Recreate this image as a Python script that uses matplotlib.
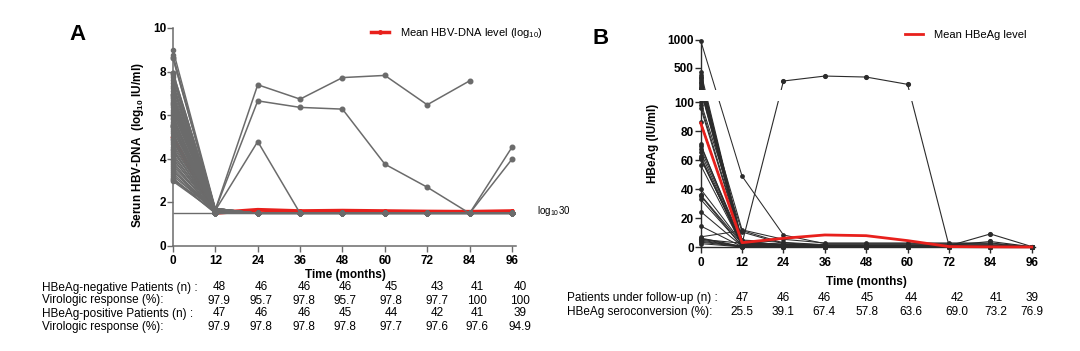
import numpy as np
import matplotlib
matplotlib.use("Agg")
import matplotlib.pyplot as plt
from matplotlib.patches import Rectangle
from matplotlib.lines import Line2D

plt.rcParams["font.family"] = ["Liberation Sans", "DejaVu Sans"]
plt.rcParams["mathtext.fontset"] = "custom"
plt.rcParams["mathtext.rm"] = "Liberation Sans"
plt.rcParams["mathtext.bf"] = "Liberation Sans:bold"
plt.rcParams["mathtext.it"] = "Liberation Sans:italic"

months = [0, 12, 24, 36, 48, 60, 72, 84, 96]
nan = np.nan

# Panel A: serum HBV-DNA (log10 IU/ml) per patient
a_baseline = [9.0, 8.75, 8.65, 7.95, 7.85, 7.75, 7.6, 7.45, 7.35, 7.25,
              7.1, 6.95, 6.85, 6.8, 6.7, 6.6, 6.55, 6.45, 6.35, 6.25,
              6.15, 6.05, 5.95, 5.85, 5.8, 5.7, 5.6, 5.5, 5.45, 5.35,
              5.25, 5.15, 5.05, 4.95, 4.85, 4.75, 4.65, 4.55, 4.45, 4.4,
              4.3, 4.2, 4.1, 4.0, 3.95, 3.85, 3.75, 3.65, 3.55, 3.45,
              3.4, 3.3, 3.2, 3.1, 3.05, 3.0, 2.95, 4.9, 5.55, 6.5]
a_month12 = [1.7, 1.65, 1.6, 1.55, 1.7, 1.5, 1.6, 1.48, 1.65, 1.55,
             1.6, 1.5, 1.7, 1.48, 1.6, 1.55, 1.65, 1.5, 1.48, 1.6,
             1.55, 1.7, 1.5, 1.6, 1.48, 1.65, 1.55, 1.5, 1.6, 1.48,
             1.7, 1.55, 1.6, 1.5, 1.48, 1.65, 1.55, 1.6, 1.5, 1.48,
             1.7, 1.55, 1.6, 1.5, 1.65, 1.48, 1.55, 1.6, 1.5, 1.48,
             1.65, 1.55, 1.6, 1.5, 1.48, 1.7, 1.55, 1.6, 1.5, 1.48]
a_lld = 1.48  # log10 30
a_rebound_1 = [8.6, 1.65, 7.39, 6.73, 7.72, 7.82, 6.47, 7.57, nan]
a_rebound_2 = [7.95, 1.65, 6.65, 6.35, 6.27, 3.74, 2.68, 1.48, 4.52]
a_blip = [6.9, 1.62, 4.78, 1.48, 1.48, 1.48, 1.48, 1.48, 1.48]
a_late = [5.5, 1.55, 1.48, 1.48, 1.48, 1.48, 1.48, 1.48, 3.97]
a_mean = [4.95, 1.5, 1.64, 1.58, 1.6, 1.58, 1.56, 1.55, 1.58]

# Panel B: HBeAg (IU/ml) per patient
b_baseline = [988, 430, 372, 335, 310, 282, 250, 222, 190, 160, 132, 112,
              104, 100, 98, 96, 86.6, 71, 70, 68, 65.5, 63, 61, 56.5,
              40, 35.5, 33, 24.6, 14.7, 7.2, 6.4, 5.8, 5.0, 4.2, 3.5, 2.5]
b_month12 = [49, 3.5, 2.5, 4.0, 1.5, 2.0, 3.0, 5.0, 2.2, 1.2, 12, 3.0,
             2.0, 10.5, 4.5, 3.2, 2.4, 1.2, 3.4, 2.0, 1.0, 0.6, 2.5, 1.4,
             3.0, 0.6, 1.1, 0.7, 0.4, 11.5, 0.6, 0.4, 0.3, 0.6, 0.4, 0.3]
b_month24 = [8.5, 2.0, 1.2, 1.8, 0.6, 1.1, 2.2, 3.4, 1.0, 0.5, 5.5, 1.3,
             0.6, 2.4, 1.5, 0.9, 0.6, 0.4, 1.2, 0.6, 0.4, 0.3, 0.7, 0.4,
             1.0, 0.2, 0.4, 0.3, 0.2, 3.0, 0.3, 0.2, 0.1, 0.3, 0.2, 0.1]
b_late = [2.5, 1.0, 0.6, 0.8, 0.3, 0.5, 1.2, 1.8, 0.5, 0.3, 3.0, 0.6,
          0.3, 1.2, 0.8, 0.5, 0.3, 0.2, 0.6, 0.3, 0.2, 0.2, 0.4, 0.2,
          0.5, 0.1, 0.2, 0.2, 0.1, 1.5, 0.2, 0.1, 0.1, 0.2, 0.1, 0.1]
b_month96 = 0.3
b_rebound = [5.5, 2.8, 263, 352, 334, 203, 1.2, 1.0, 0.4]
b_flare_1 = [61.5, 1.8, 0.9, 0.6, 0.6, 0.5, 1.0, 9.2, 0.5]
b_flare_2 = [36, 2.4, 1.5, 1.2, 1.0, 1.0, 1.3, 4.0, 0.4]
b_mean = [85.5, 3.2, 6.2, 8.5, 8.0, 4.6, 0.5, 0.3, 0.2]

# tables under the plots
a_rows = ["HBeAg-negative Patients (n) :", "Virologic response (%):",
          "HBeAg-positive Patients (n) :", "Virologic response (%):"]
a_neg_n = ["48", "46", "46", "46", "45", "43", "41", "40"]
a_neg_vr = ["97.9", "95.7", "97.8", "95.7", "97.8", "97.7", "100", "100"]
a_pos_n = ["47", "46", "46", "45", "44", "42", "41", "39"]
a_pos_vr = ["97.9", "97.8", "97.8", "97.8", "97.7", "97.6", "97.6", "94.9"]
b_rows = ["Patients under follow-up (n) :", "HBeAg seroconversion (%):"]
b_n = ["47", "46", "46", "45", "44", "42", "41", "39"]
b_sero = ["25.5", "39.1", "67.4", "57.8", "63.6", "69.0", "73.2", "76.9"]

W, H = 1080, 351
fig = plt.figure(figsize=(10.8, 3.51), dpi=100)


def fx(x):
    return x / W


def fy(y):
    return 1 - y / H


red = "#e8201c"
grey = "#6b6b6b"
dark = "#2b2b2b"

# ---------------- Panel A
axA = fig.add_axes([fx(173), fy(245.5), 97 * 3.531 / W, (245.5 - 28) / H])
axA.plot(months, a_mean, color=red, lw=2.8, marker="o", ms=2.5,
         zorder=1.8, clip_on=False)
for b, m in zip(a_baseline, a_month12):
    vals = [b, m] + [a_lld] * (len(months) - 2)
    axA.plot(months, vals, color=grey, lw=1.0, marker="o", ms=3,
             zorder=2, clip_on=False)
for traj in [a_rebound_1, a_rebound_2, a_blip, a_late]:
    axA.plot(months, traj, color=grey, lw=1.1, marker="o", ms=3.3,
             zorder=2.1, clip_on=False)
axA.hlines(a_lld, months[0], months[-1], color=grey, lw=1.0, zorder=2)

axA.set_xlim(0, 97)
axA.set_ylim(0, 10)
axA.set_xticks(months)
axA.set_yticks([0, 2, 4, 6, 8, 10])
axA.spines[["top", "right"]].set_visible(False)
for s in ["left", "bottom"]:
    axA.spines[s].set_color(grey)
    axA.spines[s].set_linewidth(1.1)
axA.tick_params(axis="both", labelsize=8.5, width=1.0, length=4,
                color=grey)
axA.tick_params(axis="x", pad=3)
axA.tick_params(axis="y", pad=1)
for lbl in axA.get_xticklabels() + axA.get_yticklabels():
    lbl.set_fontweight("bold")
axA.set_ylabel(r"Serun HBV-DNA  (log$_{\mathbf{10}}$ IU/ml)",
               fontweight="bold", fontsize=8.5)
axA.yaxis.set_label_coords(-0.079, 0.46)
axA.set_xlabel("Time (months)", fontweight="bold", fontsize=8.5)
axA.xaxis.set_label_coords(0.502, -0.11)

hA = Line2D([], [], color=red, lw=2.5, marker="o", ms=2.5)
axA.legend([hA], ["Mean HBV-DNA level (log$_{10}$)"], loc="center left",
           bbox_to_anchor=(fx(371), fy(33)), bbox_transform=fig.transFigure,
           frameon=False, fontsize=8, handlelength=1.6, handletextpad=1.0,
           borderpad=0, borderaxespad=0)
fig.text(fx(537), fy(211), "log$_{10}$30", fontsize=7, ha="left",
         va="center")
fig.text(fx(77), fy(35), "A", fontsize=16, fontweight="bold",
         ha="center", va="center")

# ---------------- Panel B (segmented y axis: 0-100 linear, gap, 100-1000)
B_GAP = 12 / 1.45
B_K = 50 / 900 / 1.45


def b_fwd(v):
    v = np.asarray(v, dtype=float)
    return np.where(v <= 100, v, 100 + B_GAP + (v - 100) * B_K)


def b_inv(t):
    t = np.asarray(t, dtype=float)
    return np.where(t <= 100, t,
                    np.where(t < 100 + B_GAP, 100,
                             100 + (t - 100 - B_GAP) / B_K))


axB = fig.add_axes([fx(700.7), fy(247.3), 97 * 3.448 / W, (247.3 - 40) / H])
axB.set_yscale("function", functions=(b_fwd, b_inv))
for i in range(len(b_baseline)):
    vals = [b_baseline[i], b_month12[i], b_month24[i]] + \
        [b_late[i]] * 5 + [b_month96]
    axB.plot(months, vals, color=dark, lw=0.75, marker="o", ms=2.4,
             zorder=2, clip_on=False)
for traj in [b_rebound, b_flare_1, b_flare_2]:
    axB.plot(months, traj, color=dark, lw=0.8, marker="o", ms=2.7,
             zorder=2.1, clip_on=False)
axB.plot(months, b_mean, color=red, lw=2.0, zorder=3, clip_on=False)

axB.set_xlim(0, 97)
axB.set_ylim(0, 1000)
axB.set_xticks(months)
axB.set_yticks([0, 20, 40, 60, 80, 100, 500, 1000])
axB.set_yticklabels(["0", "20", "40", "60", "80", "100", "500", "1000"])
axB.spines[["top", "right"]].set_visible(False)
for s in ["left", "bottom"]:
    axB.spines[s].set_color(dark)
    axB.spines[s].set_linewidth(1.0)
axB.tick_params(axis="both", labelsize=8.5, width=1.0, length=4,
                color=dark)
axB.tick_params(axis="x", pad=3)
axB.tick_params(axis="y", pad=1)
for lbl in axB.get_xticklabels() + axB.get_yticklabels():
    lbl.set_fontweight("bold")

# white band hides the axis break
top_t = float(b_fwd(1000))
y0 = (100 + 0.8) / top_t
y1 = (100 + B_GAP) / top_t
axB.add_patch(Rectangle((-0.012, y0), 1.03, y1 - y0, transform=axB.transAxes,
                        facecolor="white", edgecolor="none", zorder=5,
                        clip_on=False))

axB.set_ylabel("HBeAg (IU/ml)", fontweight="bold", fontsize=8.5)
axB.yaxis.set_label_coords(-0.125, 0.503)
axB.set_xlabel("Time (months)", fontweight="bold", fontsize=8.5)
axB.xaxis.set_label_coords(0.497, -0.14)

hB = Line2D([], [], color=red, lw=2.0)
axB.legend([hB], ["Mean HBeAg level"], loc="center left",
           bbox_to_anchor=(fx(905), fy(35)), bbox_transform=fig.transFigure,
           frameon=False, fontsize=8, handlelength=1.6, handletextpad=1.0,
           borderpad=0, borderaxespad=0)
fig.text(fx(601), fy(39), "B", fontsize=16, fontweight="bold",
         ha="center", va="center")

# ---------------- tables
a_cols = [219, 261, 304, 345, 391, 437, 477, 520]
a_rows_y = [287.5, 300.5, 313.5, 326.7]
for label, vals, y in zip(a_rows, [a_neg_n, a_neg_vr, a_pos_n, a_pos_vr],
                          a_rows_y):
    fig.text(fx(42), fy(y), label, fontsize=8.5, ha="left", va="center")
    for c, v in zip(a_cols, vals):
        fig.text(fx(c), fy(y), v, fontsize=8.5, ha="center", va="center")

b_cols = [742, 783, 824, 867, 911, 957, 996, 1032]
b_rows_y = [298.3, 312.3]
for label, vals, y in zip(b_rows, [b_n, b_sero], b_rows_y):
    fig.text(fx(567.5), fy(y), label, fontsize=8.5, ha="left", va="center")
    for c, v in zip(b_cols, vals):
        fig.text(fx(c), fy(y), v, fontsize=8.5, ha="center", va="center")

fig.savefig("out.png", dpi=100)
